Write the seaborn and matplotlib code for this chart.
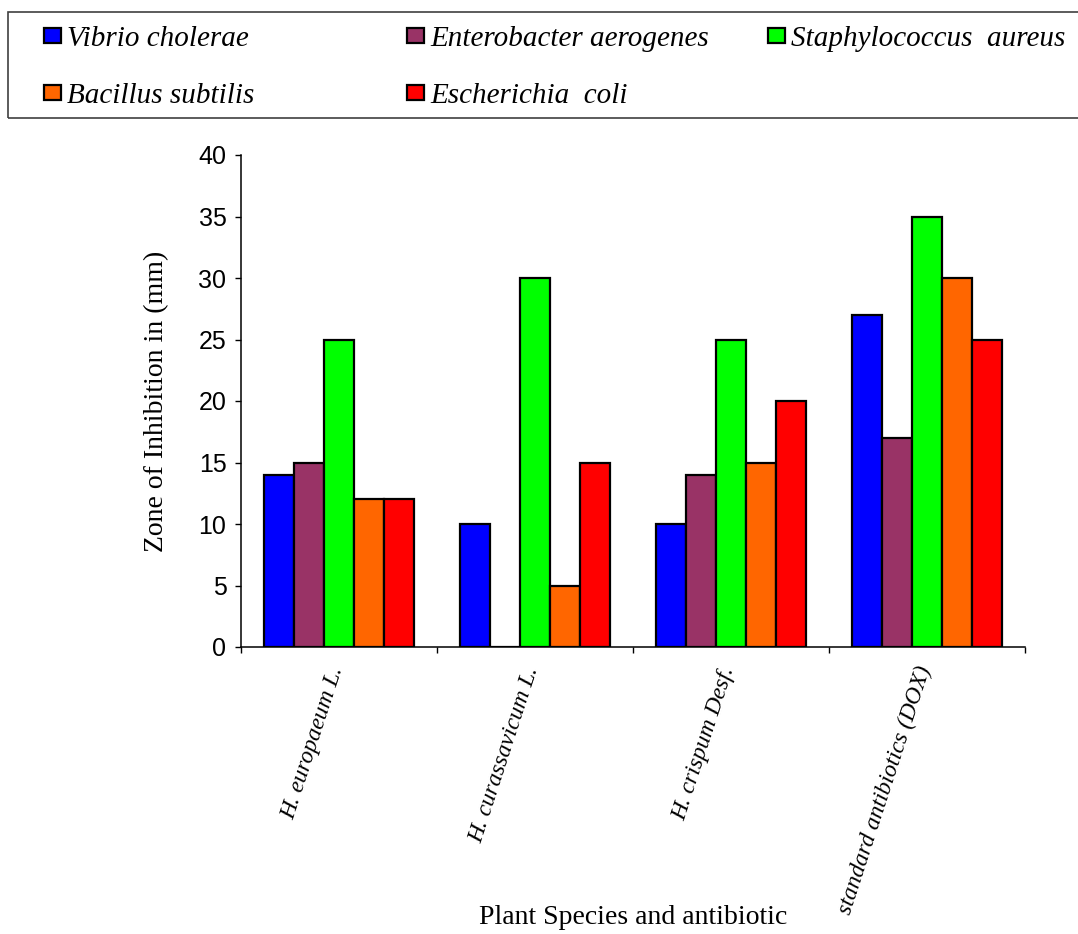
import matplotlib
matplotlib.use("Agg")
import matplotlib.pyplot as plt
import matplotlib.transforms as mtransforms
from matplotlib.patches import Rectangle
import pandas as pd
import seaborn as sns

# categories and series
species = ["H. europaeum L.", "H. curassavicum L.", "H. crispum Desf.", "standard antibiotics (DOX)"]
bacteria = ["Vibrio cholerae", "Enterobacter aerogenes", "Staphylococcus  aureus",
            "Bacillus subtilis", "Escherichia  coli"]
colors = ["#0000FF", "#993366", "#00FF00", "#FF6600", "#FF0000"]

vibrio = [14, 10, 10, 27]
enterobacter = [15, 0, 14, 17]
staph = [25, 30, 25, 35]
bacillus = [12, 5, 15, 30]
ecoli = [12, 15, 20, 25]

yticks = [0, 5, 10, 15, 20, 25, 30, 35, 40]

series = [vibrio, enterobacter, staph, bacillus, ecoli]
rows = []
for name, vals in zip(bacteria, series):
    for sp, v in zip(species, vals):
        rows.append({"Species": sp, "Bacterium": name, "Zone": v})
df = pd.DataFrame(rows)

sns.set_theme(style="ticks")
plt.rcParams["font.family"] = ["Liberation Serif", "DejaVu Sans"]
plt.rcParams.update({"text.color": "black", "axes.labelcolor": "black",
                     "xtick.color": "black", "ytick.color": "black"})

W, H = 1078, 934
fig = plt.figure(figsize=(W / 100, H / 100), dpi=100)
ax = fig.add_axes([241 / W, 1 - 647 / H, 784 / W, 492 / H])

sns.barplot(data=df, x="Species", y="Zone", hue="Bacterium", order=species,
            hue_order=bacteria, palette=colors, saturation=1, width=0.77, gap=0,
            edgecolor="black", linewidth=1.6, errorbar=None, legend=False, ax=ax)

ax.set_xlim(-0.5, 3.5)
ax.set_ylim(0, 40)
ax.set_yticks(yticks)
ax.set_yticklabels([str(t) for t in yticks], family="Liberation Sans", fontsize=18)
sns.despine(ax=ax)
for s in ["left", "bottom"]:
    ax.spines[s].set_color("black")
    ax.spines[s].set_linewidth(1.1)

ax.set_xticks(range(len(species)))
ax.set_xticklabels(species, rotation=72, ha="right", family="Liberation Serif",
                   style="italic", fontsize=17)
ax.set_xticks([i - 0.5 for i in range(len(species) + 1)], minor=True)
ax.tick_params(axis="x", which="major", length=0, pad=12)
ax.tick_params(axis="x", which="minor", length=4.5, width=1, direction="out")
ax.tick_params(axis="y", length=4.5, width=1, pad=6)
shift = mtransforms.ScaledTranslation(8 / 100, 0, fig.dpi_scale_trans)
for lab in ax.get_xticklabels():
    lab.set_transform(lab.get_transform() + shift)

ax.set_ylabel("Zone of Inhibition in (mm)", fontsize=20, family="Liberation Serif")
ax.yaxis.set_label_coords(-0.092, 0.5)
ax.set_xlabel("Plant Species and antibiotic", fontsize=20, family="Liberation Serif")
ax.xaxis.set_label_coords(0.5, -0.524)

# legend laid out in three columns like the original
handles = [c.patches[0] for c in ax.containers]
lookup = dict(zip(bacteria, handles))
columns = [(44, ["Vibrio cholerae", "Bacillus subtilis"]),
           (407, ["Enterobacter aerogenes", "Escherichia  coli"]),
           (768, ["Staphylococcus  aureus"])]
for x0, names in columns:
    fig.legend([lookup[n] for n in names], names, loc="upper left",
               bbox_to_anchor=(x0 / W, 1 - 26 / H), frameon=False,
               borderpad=0, borderaxespad=0, handlelength=0.57, handleheight=0.42,
               handletextpad=0.22, labelspacing=1.05, labelcolor="black",
               prop={"family": "Liberation Serif", "style": "italic", "size": 21})

fig.add_artist(Rectangle((8 / W, 1 - 118 / H), 1100 / W, 106 / H, transform=fig.transFigure,
                         fill=False, edgecolor="#404040", linewidth=1.2))

fig.savefig("out.png", dpi=100)
